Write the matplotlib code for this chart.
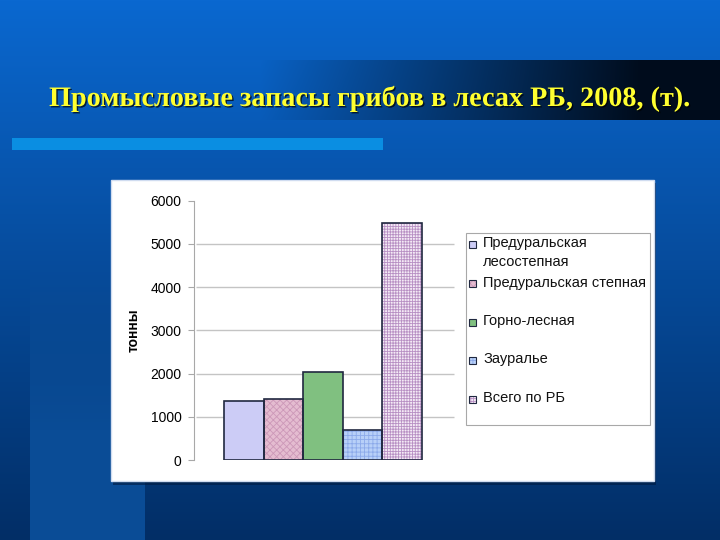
import numpy as np
import matplotlib
matplotlib.use('Agg')
import matplotlib.pyplot as plt
from matplotlib.patches import Rectangle
from matplotlib.colors import to_rgb
import matplotlib.patheffects as pe

# ---- data ----
title = "Промысловые запасы грибов в лесах РБ, 2008, (т)."
regions = ["Предуральская\nлесостепная", "Предуральская степная",
           "Горно-лесная", "Зауралье", "Всего по РБ"]
values = [1360, 1400, 2040, 700, 5490]
yticks = [0, 1000, 2000, 3000, 4000, 5000, 6000]
ylabel = "тонны"

# ---- styles ----
face_colors = ['#ccccf6', '#e4bcd0', '#80c080', '#b8d0f8', '#f4eaf6']
hatch_colors = ['#ccccf6', '#cc98b8', '#80c080', '#8caaea', '#b890c4']
hatches = [None, 'xxxxx', None, '++++', '++++++']
edge_dark = '#202840'

plt.rcParams['font.family'] = ['Liberation Sans', 'DejaVu Sans']
plt.rcParams['hatch.linewidth'] = 0.6

W, H = 720, 540
fig = plt.figure(figsize=(7.2, 5.4), dpi=100)

# ---- slide background ----
bg = fig.add_axes([0, 0, 1, 1])
bg.set_axis_off()
t = np.linspace(0, 1, H)[:, None, None]
top = np.array(to_rgb('#0a68d0'))
bot = np.array(to_rgb('#022e66'))
img = np.broadcast_to(top * (1 - t) + bot * t, (H, W, 3)).copy()
strip_col = np.array(to_rgb('#0a4c96'))
s = np.clip((np.arange(H) - 230) / 200.0, 0, 1)[:, None, None]
img[:, 30:145] = img[:, 30:145] * (1 - s) + np.maximum(img[:, 30:145], strip_col) * s
# title band darkening to the right
xs = np.arange(W)
a = np.clip((xs - 260) / 380.0, 0, 1) * 0.95
band = img[60:120]
img[60:120] = band * (1 - a[None, :, None]) + np.array(to_rgb('#000814')) * a[None, :, None]
bg.imshow(img, extent=(0, W, H, 0), aspect='auto', interpolation='bilinear')
bg.set_xlim(0, W)
bg.set_ylim(H, 0)

bg.add_patch(Rectangle((12, 138), 371, 12, color='#0a8ee2', lw=0))
bg.text(371, 99, title, color='#ffff30', fontsize=20.3, fontweight='bold',
        family=['Liberation Serif', 'DejaVu Serif'], ha='center', va='center',
        path_effects=[pe.withSimplePatchShadow(offset=(1, -1), shadow_rgbFace='black', alpha=0.7)])

# chart panel
bg.add_patch(Rectangle((113, 183), 543, 302, color='#001a40', alpha=0.6, lw=0))
bg.add_patch(Rectangle((111, 180), 543, 301, facecolor='white', edgecolor='#d0dcf0', lw=1))

# ---- chart axes ----
ax = fig.add_axes([194 / W, 1 - 460 / H, 261 / W, 259.3 / H])
ax.set_facecolor('none')
x = np.arange(len(values))
ax.set_xlim(-1.258, 5.333)
ax.set_ylim(0, 6000)
ax.hlines(yticks[1:-1], -1.2, 5.3, colors='#c4c4c4', lw=1, zorder=1)
for i in range(len(values)):
    ax.bar(x[i], values[i], width=1.0, color=face_colors[i], edgecolor=hatch_colors[i],
           hatch=hatches[i], lw=0, zorder=2)
    ax.bar(x[i], values[i], width=1.0, fill=False, edgecolor=edge_dark, lw=1.2, zorder=3)

for sp in ['top', 'right', 'bottom']:
    ax.spines[sp].set_visible(False)
ax.spines['left'].set_color('#a8a8a8')
ax.set_xticks([])
ax.set_yticks(yticks)
ax.tick_params(axis='y', length=4, color='#a8a8a8', labelsize=10, pad=5)
ax.set_ylabel(ylabel, fontsize=10, fontweight='bold')
ax.yaxis.set_label_coords((141 - 194) / 261, 0.5)

# ---- legend ----
bg.add_patch(Rectangle((466, 233), 184, 192, facecolor='white', edgecolor='#a8a8a8', lw=0.8, zorder=4))
leg_y = [244, 283, 322, 360, 399]
for i, lab in enumerate(regions):
    bg.add_patch(Rectangle((469, leg_y[i] - 3.5), 7, 7, facecolor=face_colors[i],
                           edgecolor=hatch_colors[i], hatch=hatches[i], lw=0, zorder=5))
    bg.add_patch(Rectangle((469, leg_y[i] - 3.5), 7, 7, fill=False,
                           edgecolor=edge_dark, lw=0.8, zorder=6))
    bg.text(483, leg_y[i] - 7.5, lab, fontsize=10.5, va='top', ha='left',
            linespacing=1.45, zorder=6, color='#111111')

fig.savefig('out.png', dpi=100)
